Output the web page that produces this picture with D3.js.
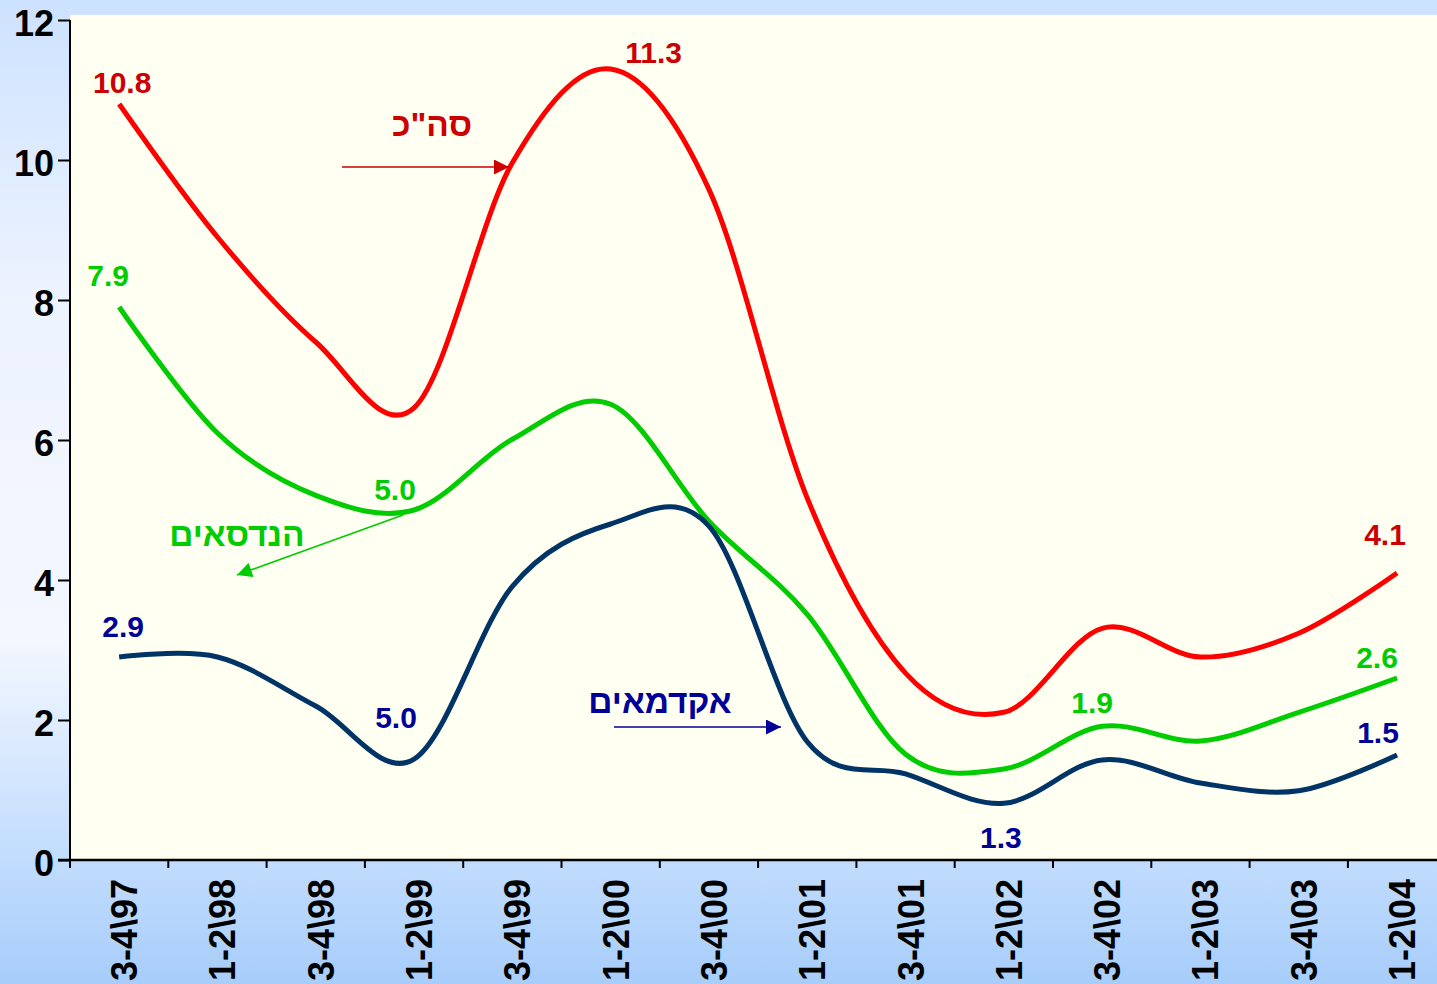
<!DOCTYPE html>
<html><head><meta charset="utf-8">
<script src="https://cdn.jsdelivr.net/npm/d3@7/dist/d3.min.js"></script>
<style>html,body{margin:0;padding:0;overflow:hidden;}svg{display:block;}</style>
</head><body>
<svg id="chart" width="1437" height="984"></svg>
<script>
const categories = ["3-4\\97","1-2\\98","3-4\\98","1-2\\99","3-4\\99","1-2\\00","3-4\\00","1-2\\01","3-4\\01","1-2\\02","3-4\\02","1-2\\03","3-4\\03","1-2\\04"];
const totalValues    = [10.8, 8.9, 7.4, 6.46, 9.96, 11.3, 9.58, 5.17, 2.67, 2.11, 3.31, 2.9, 3.24, 4.1];
const techValues     = [7.9, 6.1, 5.21, 5.0, 6.01, 6.51, 4.84, 3.51, 1.51, 1.3, 1.91, 1.7, 2.11, 2.6];
const academicValues = [2.9, 2.9, 2.2, 1.44, 3.91, 4.8, 4.77, 1.69, 1.23, 0.81, 1.43, 1.1, 0.99, 1.5];
const yTicks = [0, 2, 4, 6, 8, 10, 12];
const seriesNames = ["סה\"כ", "הנדסאים", "אקדמאים"];
const valueLabels = [
  {s:0, text:"10.8", i:0}, {s:0, text:"11.3", i:5}, {s:0, text:"4.1", i:13},
  {s:1, text:"7.9", i:0}, {s:1, text:"5.0", i:3}, {s:1, text:"1.9", i:10}, {s:1, text:"2.6", i:13},
  {s:2, text:"2.9", i:0}, {s:2, text:"5.0", i:3}, {s:2, text:"1.3", i:9}, {s:2, text:"1.5", i:13}
];

const svg = d3.select("#chart");
const W = 1437, H = 984;
const font = "'Liberation Sans', Arial, 'DejaVu Sans', sans-serif";

const defs = svg.append("defs");
const bg = defs.append("linearGradient").attr("id","bg").attr("x1",0).attr("y1",0).attr("x2",0).attr("y2",1);
[[0,"#cde2ff"],[0.3,"#edf3ff"],[0.65,"#f3f7ff"],[0.86,"#c4defe"],[1,"#a7cdfa"]].forEach(s=>bg.append("stop").attr("offset",s[0]).attr("stop-color",s[1]));
svg.append("rect").attr("width",W).attr("height",H).attr("fill","url(#bg)");

const x = d3.scaleBand().domain(categories).range([70, 1446.2]).padding(0);
const y = d3.scaleLinear().domain([0, 12]).range([860, 20]);
const cx = d => x(d) + x.bandwidth()/2;

// plot area
svg.append("rect").attr("x",70).attr("y",15).attr("width",W-70).attr("height",845).attr("fill","#fffff2");

// axes
const yAxis = svg.append("g").attr("transform","translate(70,0)")
  .call(d3.axisLeft(y).tickValues(yTicks).tickSize(12).tickPadding(4).tickFormat(d3.format("d")));
yAxis.select(".domain").attr("stroke","#000").attr("stroke-width",2).attr("d","M0,20V860");
yAxis.selectAll(".tick line").attr("stroke","#000").attr("stroke-width",2);
yAxis.selectAll(".tick text").attr("font-family",font).attr("font-weight","bold").attr("font-size",36)
  .attr("fill","#000").attr("x",-16).attr("dy","0.42em").attr("text-anchor","end");

const xAxis = svg.append("g").attr("transform","translate(0,860)")
  .call(d3.axisBottom(x).tickSize(0).tickFormat(""));
xAxis.select(".domain").attr("stroke","#000").attr("stroke-width",2.5).attr("d","M58,0H1446");
xAxis.selectAll(".tick").remove();
const bounds = categories.map(c => x(c)).concat([x(categories[categories.length-1]) + x.bandwidth()]);
xAxis.selectAll("line.tk").data(bounds).enter().append("line").attr("class","tk")
  .attr("x1",d=>d).attr("x2",d=>d).attr("y1",0).attr("y2",8).attr("stroke","#000").attr("stroke-width",2);
svg.append("g").selectAll("text").data(categories).enter().append("text")
  .attr("transform",d=>`translate(${cx(d)+18},879) rotate(-90)`)
  .attr("text-anchor","end").attr("font-family",font).attr("font-weight","bold").attr("font-size",36)
  .attr("fill","#000").text(d=>d);

// lines
const seriesVals = [totalValues, techValues, academicValues];
const lineColors = ["#ff0000", "#00cc00", "#003366"];
const labelColors = ["#cc0000", "#00cc00", "#000099"];
const line = d3.line().x((d,i)=>cx(categories[i])).y(d=>y(d)).curve(d3.curveCardinal.tension(0));
seriesVals.forEach((vals, s) => {
  svg.append("path").datum(vals).attr("d", line).attr("fill","none")
    .attr("stroke", lineColors[s]).attr("stroke-width",5).attr("stroke-linejoin","round");
});

// value labels (offsets relative to the point)
const labelOffsets = {
  "0-0":[3,-11], "0-5":[43,-6], "0-13":[-12,-28],
  "1-0":[-11,-21], "1-3":[-19,-10], "1-10":[-10,-13], "1-13":[-20,-10],
  "2-0":[4,-20], "2-3":[-18,-31], "2-9":[-3,45], "2-13":[-19,-12]
};
valueLabels.forEach(l => {
  const o = labelOffsets[l.s+"-"+l.i];
  svg.append("text").attr("x", cx(categories[l.i]) + o[0]).attr("y", y(seriesVals[l.s][l.i]) + o[1])
    .attr("text-anchor","middle").attr("font-family",font).attr("font-weight","bold").attr("font-size",30)
    .attr("fill", labelColors[l.s]).text(l.text);
});

// arrow markers
labelColors.forEach((c, s) => {
  defs.append("marker").attr("id","arr"+s).attr("viewBox","0 0 10 10").attr("refX",10).attr("refY",5)
    .attr("markerWidth",15).attr("markerHeight",15).attr("markerUnits","userSpaceOnUse").attr("orient","auto")
    .append("path").attr("d","M0,0L10,5L0,10Z").attr("fill", c);
});

// series name annotations
const annotations = [
  {s:0, tx:432, ty:136, x1:342, y1:167, x2:509, y2:167},
  {s:1, tx:237, ty:546, x1:403, y1:515, x2:237, y2:575},
  {s:2, tx:660, ty:713, x1:614, y1:727, x2:781, y2:727}
];
annotations.forEach(a => {
  svg.append("text").attr("x",a.tx).attr("y",a.ty).attr("text-anchor","middle").attr("direction","rtl")
    .attr("font-family",font).attr("font-weight","bold").attr("font-size",33.5)
    .attr("fill", labelColors[a.s]).text(seriesNames[a.s]);
  svg.append("line").attr("x1",a.x1).attr("y1",a.y1).attr("x2",a.x2).attr("y2",a.y2)
    .attr("stroke", labelColors[a.s]).attr("stroke-width",1.6).attr("marker-end","url(#arr"+a.s+")");
});
</script>
</body></html>
